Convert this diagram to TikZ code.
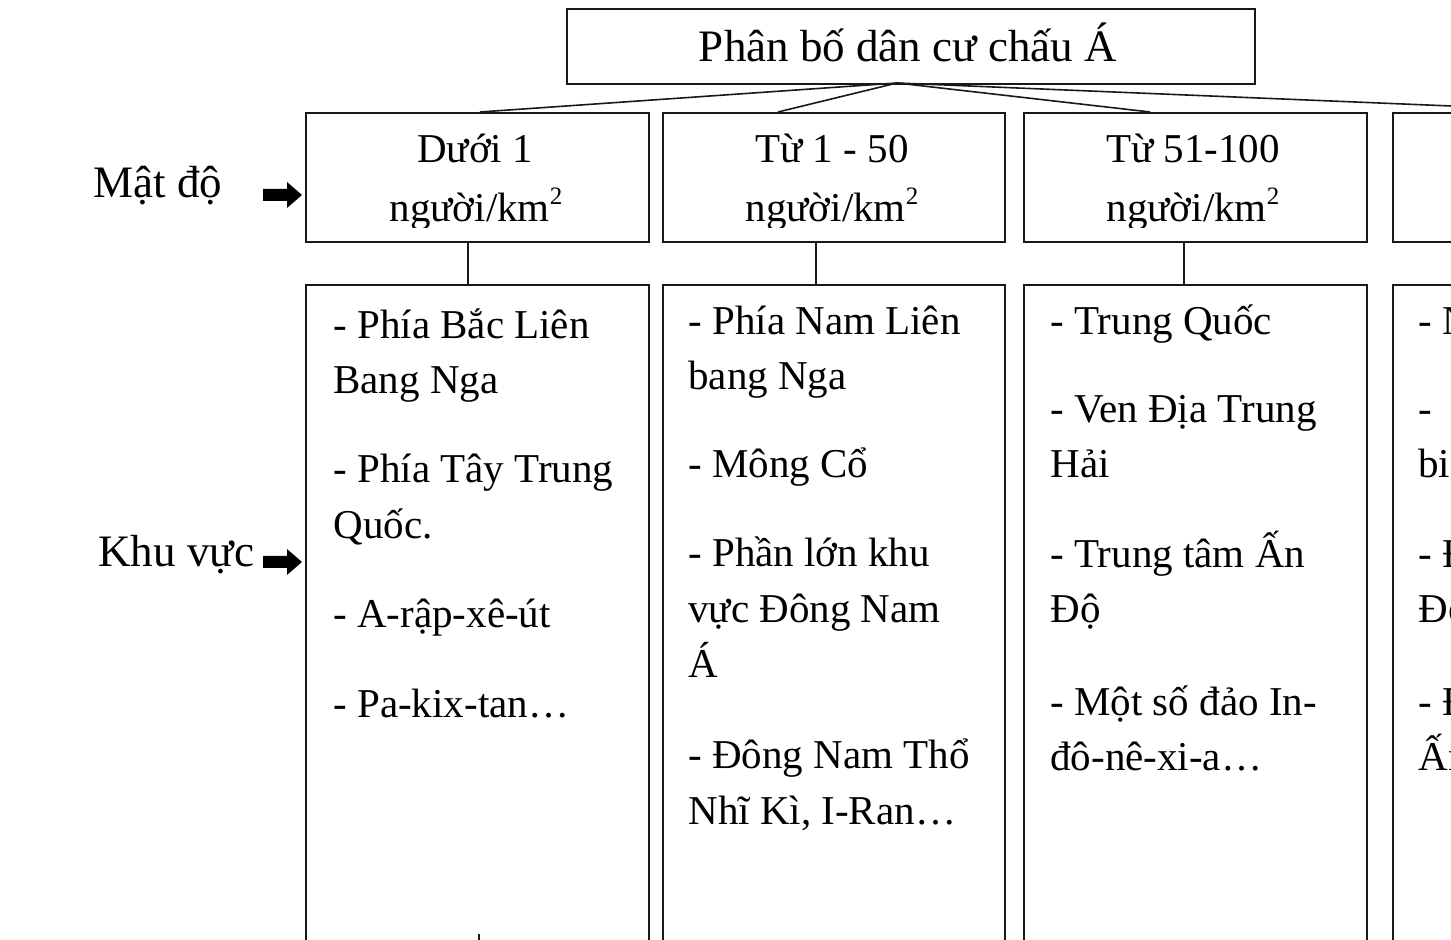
\documentclass[tikz,border=0pt]{standalone}
\usepackage{fontspec}
\setmainfont{Liberation Serif}
\usetikzlibrary{calc}
\newcommand{\sqkm}{người/km\raisebox{0.42em}{\fontsize{12.5}{12.5}\selectfont 2}}
\begin{document}
\begin{tikzpicture}[x=0.5pt,y=-0.5pt,
  frame/.style={draw=black!90, line width=1pt, inner sep=0pt, anchor=north west},
  ln/.style={font=\fontsize{20.5}{24}\selectfont, anchor=base west, inner sep=0pt},
  hd/.style={font=\fontsize{20.5}{24}\selectfont, anchor=base, inner sep=0pt},
  lab/.style={font=\fontsize{22.5}{27}\selectfont, anchor=base west, inner sep=0pt},
  link/.style={draw=black!90, line width=0.8pt},
  fatarrow/.style={fill=black}]
\useasboundingbox (0,0) rectangle (1451,940);
\clip (0,0) rectangle (1451,940);

% title
\node[frame, minimum width=344pt, minimum height=37.5pt] (top) at (566,8) {};
\node[font=\fontsize{22.5}{27}\selectfont, anchor=base, inner sep=0pt] (title) at (908,62) {Phân bố dân cư chấu Á};

% header boxes
\node[frame, minimum width=171.5pt, minimum height=64.5pt] (h1) at (305,112) {};
\node[frame, minimum width=171pt, minimum height=64.5pt] (h2) at (662,112) {};
\node[frame, minimum width=171.5pt, minimum height=64.5pt] (h3) at (1023,112) {};
\node[frame, minimum width=171.5pt, minimum height=64.5pt] (h4) at (1392,112) {};

% body boxes
\node[frame, minimum width=171.5pt, minimum height=340pt] (b1) at (305,284) {};
\node[frame, minimum width=171pt, minimum height=340pt] (b2) at (662,284) {};
\node[frame, minimum width=171.5pt, minimum height=340pt] (b3) at (1023,284) {};
\node[frame, minimum width=171.5pt, minimum height=340pt] (b4) at (1392,284) {};

% connectors from title
\coordinate (o) at (897,83);
\coordinate (e1) at (480,112);
\coordinate (e2) at (778,112);
\coordinate (e3) at (1150,112);
\coordinate (e4) at (1596,112);
\draw[link] (o) -- (e1);
\draw[link] (o) -- (e2);
\draw[link] (o) -- (e3);
\draw[link] (o) -- (e4);

% header to body connectors
\coordinate (v1a) at (468,241); \coordinate (v1b) at (468,284);
\coordinate (v2a) at (816,241); \coordinate (v2b) at (816,284);
\coordinate (v3a) at (1184,241); \coordinate (v3b) at (1184,284);
\draw[link] (v1a) -- (v1b);
\draw[link] (v2a) -- (v2b);
\draw[link] (v3a) -- (v3b);
\coordinate (t1) at (479,934); \coordinate (t2) at (479,941);
\draw[link] (t1) -- (t2);

% header texts (clipped at the lower edge as in the source)
\begin{scope}
\clip (305,112) rectangle (1451,228);
\node[hd] (h1a) at (475,163) {Dưới 1};
\node[hd] (h1b) at (476,222) {\sqkm};
\node[hd] (h2a) at (832,163) {Từ 1 - 50};
\node[hd] (h2b) at (832,222) {\sqkm};
\node[hd] (h3a) at (1193,163) {Từ 51-100};
\node[hd] (h3b) at (1193,222) {\sqkm};
\end{scope}

% row labels and arrows
\node[lab] (lmd) at (93,198) {Mật độ};
\node[lab] (lkv) at (98,567) {Khu vực};
\coordinate (a1) at (263,195);
\coordinate (a2) at (263,562);
\fill[fatarrow] (a1) ++(0,-6) -- ++(24,0) -- ++(0,-7) -- ++(15,13) -- ++(-15,13) -- ++(0,-7) -- ++(-24,0) -- cycle;
\fill[fatarrow] (a2) ++(0,-6) -- ++(24,0) -- ++(0,-7) -- ++(15,13) -- ++(-15,13) -- ++(0,-7) -- ++(-24,0) -- cycle;

% body texts box 1
\node[ln] (p11) at (333,339) {- Phía Bắc Liên};
\node[ln] (p12) at (333,394) {Bang Nga};
\node[ln] (p13) at (333,483) {- Phía Tây Trung};
\node[ln] (p14) at (333,539) {Quốc.};
\node[ln] (p15) at (333,628) {- A-rập-xê-út};
\node[ln] (p16) at (333,718) {- Pa-kix-tan…};

% box 2
\node[ln] (p21) at (688,335) {- Phía Nam Liên};
\node[ln] (p22) at (688,390) {bang Nga};
\node[ln] (p23) at (688,478) {- Mông Cổ};
\node[ln] (p24) at (688,567) {- Phần lớn khu};
\node[ln] (p25) at (688,623) {vực Đông Nam};
\node[ln] (p26) at (688,677) {Á};
\node[ln] (p27) at (688,768) {- Đông Nam Thổ};
\node[ln] (p28) at (688,824) {Nhĩ Kì, I-Ran…};

% box 3
\node[ln] (p31) at (1050,335) {- Trung Quốc};
\node[ln] (p32) at (1050,423) {- Ven Địa Trung};
\node[ln] (p33) at (1050,478) {Hải};
\node[ln] (p34) at (1050,568) {- Trung tâm Ấn};
\node[ln] (p35) at (1050,623) {Độ};
\node[ln] (p36) at (1050,715) {- Một số đảo In-};
\node[ln] (p37) at (1050,770) {đô-nê-xi-a…};

% box 4 (cut by the right edge, as in the source)
\node[ln] (p41) at (1418,335) {- N};
\node[ln] (p42) at (1418,423) {-};
\node[ln] (p43) at (1418,478) {bi};
\node[ln] (p44) at (1418,568) {- Đ};
\node[ln] (p45) at (1418,623) {Đo};
\node[ln] (p46) at (1418,715) {- Đ};
\node[ln] (p47) at (1418,770) {Ấn};
\end{tikzpicture}
\end{document}
